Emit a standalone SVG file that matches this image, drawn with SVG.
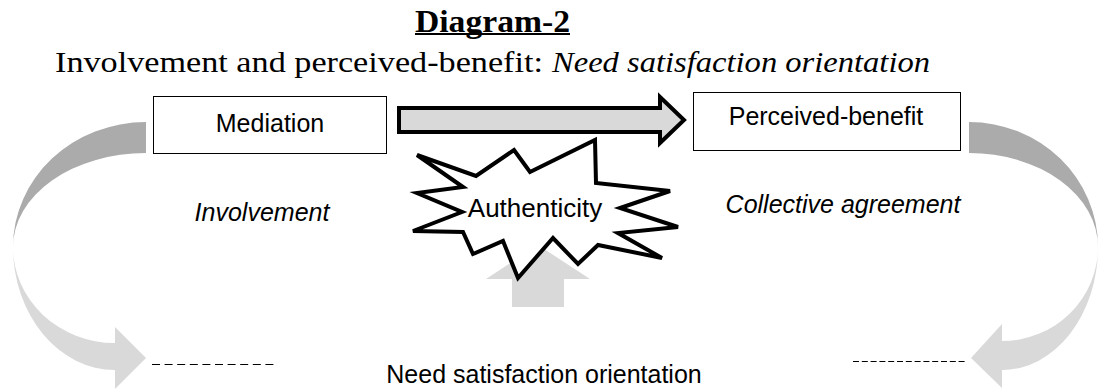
<svg xmlns="http://www.w3.org/2000/svg" width="1102" height="389" viewBox="0 0 1102 389">
<style>
.sans{font-family:"Liberation Sans",Arial,sans-serif;fill:#000}
.serif{font-family:"Liberation Serif","Times New Roman",serif;fill:#000}
.box{fill:#fff;stroke:#000;stroke-width:1}
.dark{fill:#ababab}
.light{fill:#d9d9d9}
.dash{stroke:#000;stroke-width:1;fill:none}
</style>
<rect width="1102" height="389" fill="#fff"/>
<g id="title">
<text class="serif" x="415" y="32" font-size="32" font-weight="bold" textLength="155" lengthAdjust="spacingAndGlyphs">Diagram-2</text>
<rect x="415" y="33" width="155" height="2" fill="#000"/>
<text class="serif" x="55" y="72" font-size="30" textLength="488" lengthAdjust="spacingAndGlyphs">Involvement and perceived-benefit:</text>
<text class="serif" x="552" y="72" font-size="30" font-style="italic" textLength="378" lengthAdjust="spacingAndGlyphs">Need satisfaction orientation</text>
</g>
<g id="connectors">
<g id="loop-left">
<path class="dark" d="M146,122 A133,125 0 0 0 13,247 A133,94 0 0 1 146,153 Z"/>
<path class="light" d="M13,247 A102,123 0 0 0 115,370 L115,389 L146,358 L115,327 L115,343 A102,96 0 0 1 13,247 Z"/>
</g>
<g id="loop-right">
<path class="dark" d="M969,122 A129,125 0 0 1 1098,247 A129,94 0 0 0 969,153 Z"/>
<path class="light" d="M1098,247 A96,123 0 0 1 1002,370 L1002,388 L971,358 L1002,324 L1002,341 A96,94 0 0 0 1098,247 Z"/>
</g>
<path id="main-arrow" d="M399,108 L660,108 L660,97 L684,120 L660,143 L660,132 L399,132 Z" fill="#d9d9d9" stroke="#000" stroke-width="4" stroke-linejoin="miter"/>
<path id="up-arrow" class="light" d="M538,245 L590,279 L564,279 L564,307 L512,307 L512,279 L486,279 Z"/>
<line class="dash" x1="152" y1="364.5" x2="278" y2="364.5" stroke-dasharray="8,4.6"/>
<line class="dash" x1="853" y1="361.5" x2="967" y2="361.5" stroke-dasharray="6,2.8"/>
</g>
<g id="mediation">
<rect class="box" x="153.5" y="96.5" width="233" height="57"/>
<text class="sans" x="270" y="132" font-size="25" text-anchor="middle">Mediation</text>
</g>
<g id="perceived-benefit">
<rect class="box" x="693.5" y="92.5" width="267" height="58"/>
<text class="sans" x="826" y="125" font-size="25" text-anchor="middle">Perceived-benefit</text>
</g>
<g id="authenticity">
<path d="M417,155 L476,176 L514,150 L530,172 L595,140 L596,183 L670,191 L620,208 L678,227 L618,233 L662,258 L598,245 L578,264 L553,238 L518,278 L503,241 L473,254 L463,232 L413,231 L462,212 L417,193 L463,187 Z" fill="#fff" stroke="#000" stroke-width="4" stroke-linejoin="miter"/>
<text class="sans" x="535" y="217" font-size="26" text-anchor="middle">Authenticity</text>
</g>
<g id="labels">
<text class="sans" x="262" y="221" font-size="25" font-style="italic" text-anchor="middle">Involvement</text>
<text class="sans" x="843" y="213" font-size="25" font-style="italic" text-anchor="middle">Collective agreement</text>
<text class="sans" x="544" y="383" font-size="25" text-anchor="middle">Need satisfaction orientation</text>
</g>
</svg>
